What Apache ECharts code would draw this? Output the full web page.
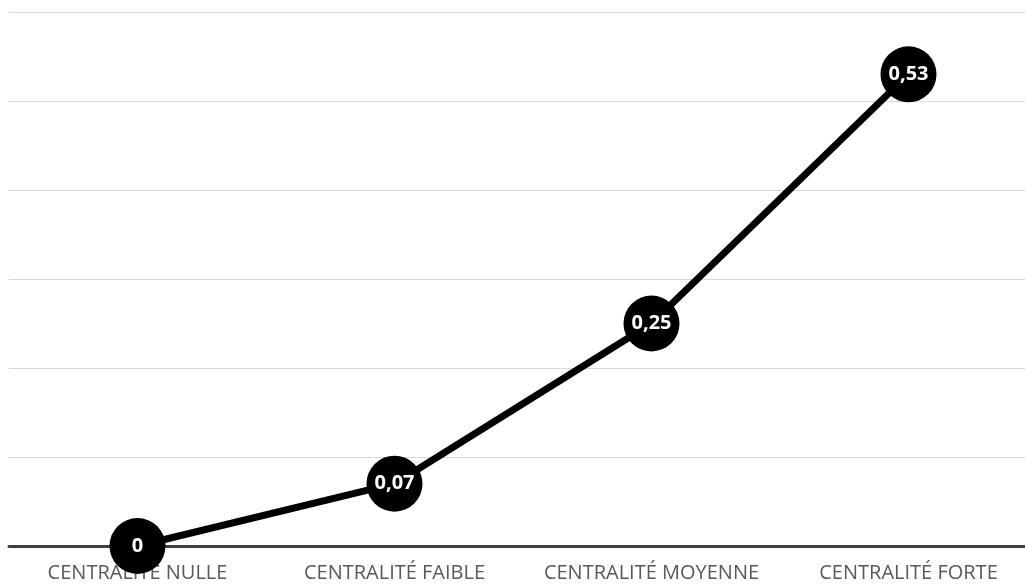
<!DOCTYPE html>
<html><head><meta charset="utf-8">
<script src="https://cdn.jsdelivr.net/npm/echarts@6/dist/echarts.min.js"></script>
<style>html,body{margin:0;padding:0;background:#fff;overflow:hidden}#c{width:1040px;height:587px}</style>
</head><body><div id="c"></div>
<script>
const categories = ['CENTRALITÉ NULLE', 'CENTRALITÉ FAIBLE', 'CENTRALITÉ MOYENNE', 'CENTRALITÉ FORTE'];
const values = [0, 0.07, 0.25, 0.53];
const yMin = 0, yMax = 0.6, yInterval = 0.1;

const chart = echarts.init(document.getElementById('c'), null, {renderer: 'canvas'});
chart.setOption({
  animation: false,
  grid: {left: 9, width: 1028, top: 12, bottom: 41, containLabel: false},
  xAxis: {
    type: 'category', data: categories, boundaryGap: true,
    axisLine: {lineStyle: {color: '#404040', width: 3}},
    axisTick: {show: false},
    axisLabel: {color: '#595959', fontSize: 20, fontFamily: 'Open Sans', margin: 17, interval: 0}
  },
  yAxis: {
    type: 'value', min: yMin, max: yMax, interval: yInterval,
    axisLabel: {show: false}, axisLine: {show: false}, axisTick: {show: false},
    splitLine: {lineStyle: {color: '#d9d9d9', width: 1}}
  },
  series: [{
    type: 'line', data: values,
    lineStyle: {color: '#000', width: 7},
    symbol: 'circle', symbolSize: 56,
    itemStyle: {color: '#000'},
    label: {show: true, position: 'inside', color: '#fff', fontWeight: 'bold', fontSize: 20, fontFamily: 'Open Sans',
      formatter: p => String(p.value).replace('.', ',')},
    z: 3
  }]
});
</script></body></html>
